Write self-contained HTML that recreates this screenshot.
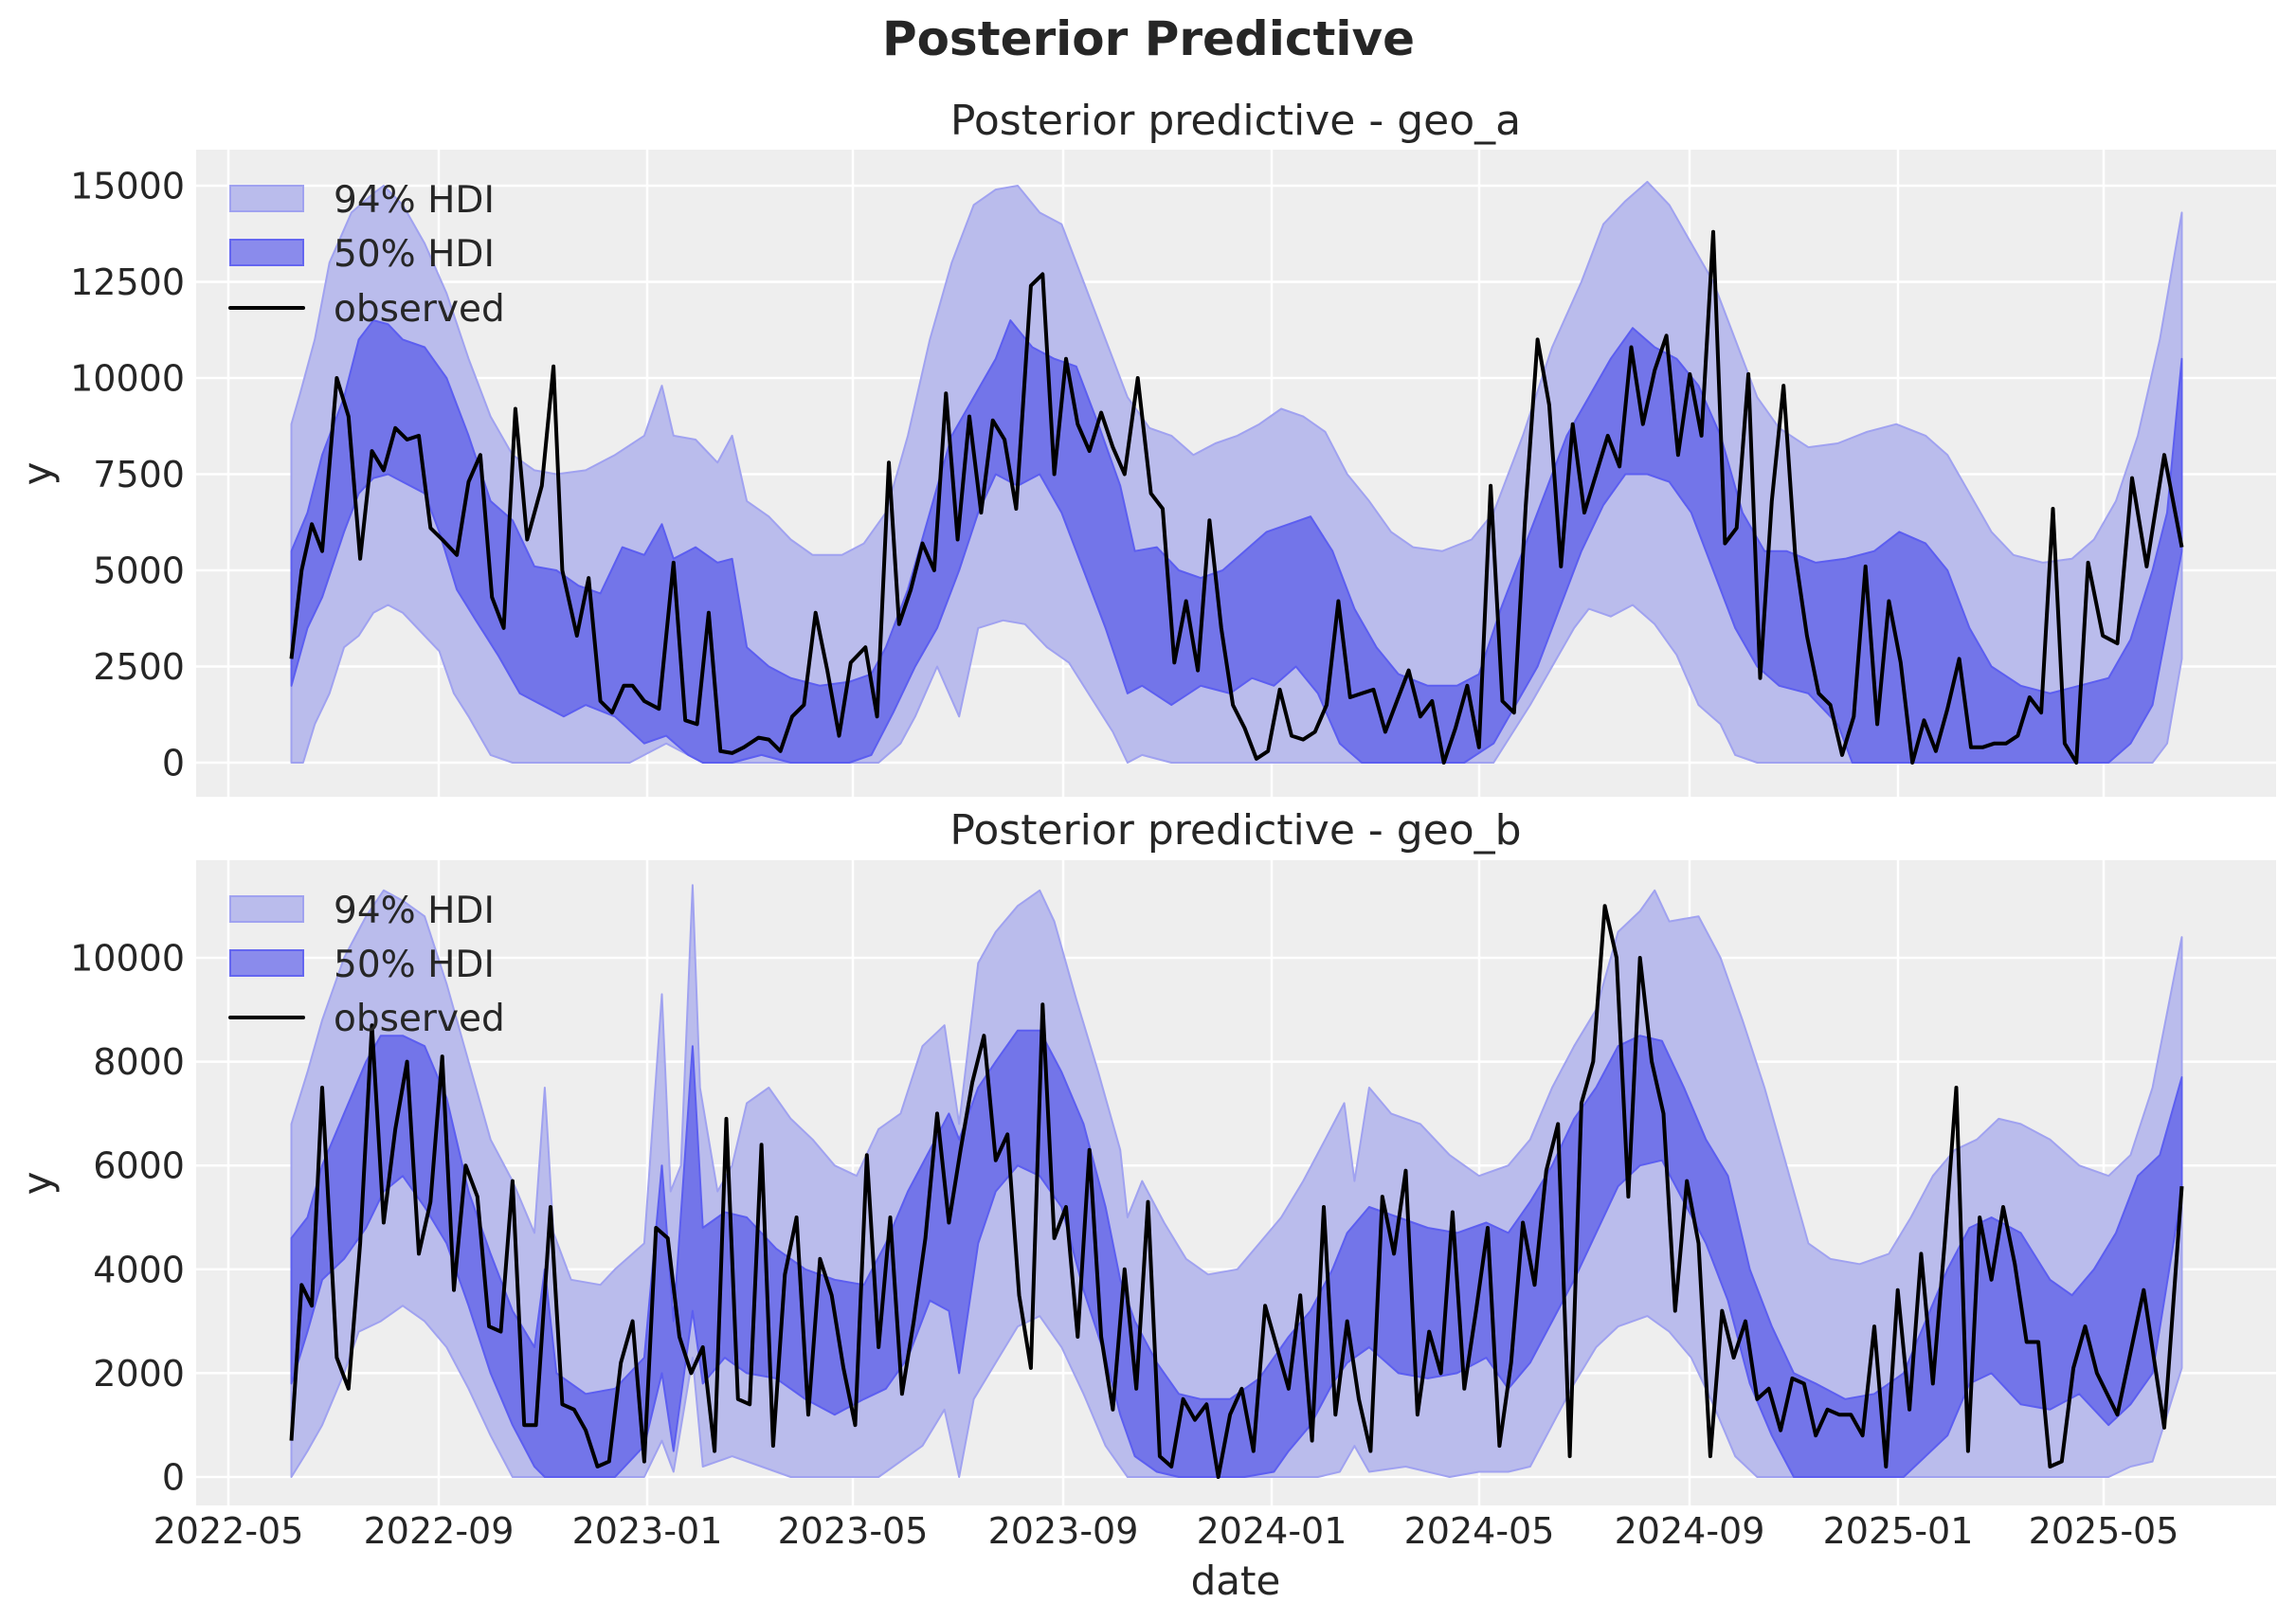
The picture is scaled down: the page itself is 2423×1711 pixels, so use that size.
<!DOCTYPE html>
<html><head><meta charset="utf-8"><style>
html,body{margin:0;padding:0;background:#fff;}
svg{display:block;}
text{font-family:"DejaVu Sans","Liberation Sans",sans-serif;fill:#262626;}
</style></head><body>
<svg id="s" width="2423" height="1711" viewBox="0 0 2423 1711" xmlns="http://www.w3.org/2000/svg">
<rect x="0" y="0" width="2423" height="1711" fill="#fff"/>
<text x="1212" y="58" font-size="50" font-weight="bold" text-anchor="middle">Posterior Predictive</text>
<text x="1304" y="142" font-size="44" text-anchor="middle">Posterior predictive - geo_a</text>
<text x="1304" y="891" font-size="44" text-anchor="middle">Posterior predictive - geo_b</text>
<text x="1304" y="1683" font-size="42" text-anchor="middle">date</text>
<text transform="translate(54,500) rotate(-90)" font-size="42" text-anchor="middle">y</text>
<text transform="translate(54,1249) rotate(-90)" font-size="42" text-anchor="middle">y</text>
<g id="g"></g>
</svg>
<script>
var S=1.5453,NS="http://www.w3.org/2000/svg",G=document.getElementById('g');
function el(t,a,txt){var e=document.createElementNS(NS,t);for(var k in a)e.setAttribute(k,a[k]);if(txt!=null)e.textContent=txt;G.appendChild(e);return e;}
var L=207,R=2402;
var xt=[241,463,683,900,1122,1342,1561,1783,2003,2220],xl=["2022-05","2022-09","2023-01","2023-05","2023-09","2024-01","2024-05","2024-09","2025-01","2025-05"];
var P=[{top:158,bot:841,y0:805,k:609/15000,ticks:[0,2500,5000,7500,10000,12500,15000],
u94:[199,8800,205,9600,215,11000,225,13000,240,14300,255,14800,262,15000,275,14500,290,13500,305,12200,320,10500,335,9000,350,8000,365,7600,380,7500,400,7600,420,8000,440,8500,452,9800,460,8500,475,8400,490,7800,500,8500,510,6800,525,6400,540,5800,555,5400,575,5400,590,5700,605,6500,620,8500,635,11000,650,13000,665,14500,680,14900,695,15000,710,14300,725,14000,740,12500,755,11000,770,9500,785,8700,800,8500,815,8000,830,8300,845,8500,860,8800,875,9200,890,9000,905,8600,920,7500,935,6800,950,6000,965,5600,985,5500,1005,5800,1020,6500,1040,8500,1060,10800,1080,12500,1095,14000,1110,14600,1125,15100,1140,14500,1155,13500,1170,12500,1185,11000,1200,9500,1215,8700,1235,8200,1255,8300,1275,8600,1295,8800,1315,8500,1330,8000,1345,7000,1360,6000,1375,5400,1395,5200,1415,5300,1430,5800,1445,6800,1460,8500,1475,11000,1490,14300],
l94:[199,0,207,0,215,1000,225,1800,235,3000,245,3300,255,3900,265,4100,275,3900,290,3300,300,2900,310,1800,320,1200,335,200,350,0,430,0,440,200,455,500,470,200,480,0,600,0,615,500,625,1200,640,2500,655,1200,668,3500,685,3700,700,3600,715,3000,730,2600,745,1700,760,800,770,0,780,200,800,0,1020,0,1030,600,1045,1500,1060,2500,1075,3500,1085,4000,1100,3800,1115,4100,1130,3600,1145,2800,1160,1500,1175,1000,1185,200,1200,0,1470,0,1480,500,1490,2700],
u50:[199,5500,210,6500,220,8000,235,9500,245,11000,255,11500,265,11400,275,11000,290,10800,305,10000,320,8500,335,6800,350,6300,365,5100,380,5000,395,4600,410,4400,425,5600,440,5400,452,6200,460,5300,475,5600,490,5200,500,5300,510,3000,525,2500,540,2200,560,2000,580,2100,595,2300,605,3000,620,4500,635,6500,650,8500,665,9500,680,10500,690,11500,705,10800,720,10500,735,10300,750,8800,765,7200,775,5500,790,5600,805,5000,820,4800,835,5000,850,5500,865,6000,880,6200,895,6400,910,5500,925,4000,940,3000,955,2300,975,2000,995,2000,1010,2300,1025,4000,1040,5500,1055,7000,1070,8500,1085,9500,1100,10500,1115,11300,1130,10800,1145,10500,1160,9800,1175,8500,1190,6500,1205,5500,1220,5500,1240,5200,1260,5300,1280,5500,1297,6000,1315,5700,1330,5000,1345,3500,1360,2500,1380,2000,1400,1800,1420,2000,1440,2200,1455,3200,1470,5000,1480,6500,1490,10500],
l50:[199,2000,210,3500,220,4300,235,6000,245,7000,255,7400,265,7500,275,7300,290,7000,300,6000,312,4500,325,3700,340,2800,355,1800,370,1500,385,1200,400,1500,420,1200,440,500,455,700,470,200,480,0,500,0,520,200,540,0,580,0,595,200,610,1300,625,2500,640,3500,655,5000,668,6500,680,7500,695,7200,710,7500,725,6500,740,5000,755,3500,770,1800,780,2000,800,1500,820,2000,840,1800,855,2200,870,2000,885,2500,900,1800,915,500,930,0,1000,0,1020,500,1035,1500,1050,2500,1065,4000,1080,5500,1095,6700,1110,7500,1125,7500,1140,7300,1155,6500,1170,5000,1185,3500,1200,2500,1215,2000,1235,1800,1255,1000,1265,0,1440,0,1455,500,1470,1500,1480,3500,1490,5500],
obs:[199,2700,206,5000,213,6200,220,5500,230,10000,238,9000,246,5300,254,8100,262,7600,270,8700,278,8400,286,8500,294,6100,302,5800,312,5400,320,7300,328,8000,336,4300,344,3500,352,9200,360,5800,370,7200,378,10300,384,5000,394,3300,402,4800,410,1600,418,1300,426,2000,432,2000,440,1600,450,1400,460,5200,468,1100,476,1000,484,3900,492,300,500,250,508,400,518,650,525,600,533,300,541,1200,549,1500,557,3900,565,2400,573,700,581,2600,591,3000,599,1200,607,7800,614,3600,622,4500,630,5700,638,5000,646,9600,654,5800,662,9000,670,6500,678,8900,686,8400,694,6600,704,12400,712,12700,720,7500,728,10500,736,8800,744,8100,752,9100,760,8200,768,7500,777,10000,786,7000,794,6600,802,2600,810,4200,818,2400,826,6300,834,3500,842,1500,850,900,858,100,866,300,874,1900,882,700,890,600,898,800,906,1500,914,4200,922,1700,930,1800,938,1900,946,800,954,1600,962,2400,970,1200,978,1600,986,0,994,900,1002,2000,1010,400,1018,7200,1026,1600,1034,1300,1042,6700,1050,11000,1058,9300,1066,5100,1074,8800,1082,6500,1090,7500,1098,8500,1106,7700,1114,10800,1122,8800,1130,10200,1138,11100,1146,8000,1154,10100,1162,8500,1170,13800,1178,5700,1186,6100,1194,10100,1202,2200,1210,6800,1218,9800,1226,5400,1234,3300,1242,1800,1250,1500,1258,200,1266,1200,1274,5100,1282,1000,1290,4200,1298,2600,1306,0,1314,1100,1322,300,1330,1400,1338,2700,1346,400,1354,400,1362,500,1370,500,1378,700,1386,1700,1394,1300,1402,6600,1410,500,1418,0,1426,5200,1436,3300,1446,3100,1456,7400,1466,5100,1478,8000,1490,5600]},
{top:908,bot:1589,y0:1559,k:0.0548,ticks:[0,2000,4000,6000,8000,10000],
u94:[199,6800,210,7800,220,8800,235,10000,250,10800,262,11300,275,11100,290,10800,305,9500,320,8000,335,6500,350,5700,365,4700,372,7500,378,4700,390,3800,410,3700,420,4000,440,4500,452,9300,458,5500,465,6000,473,11400,478,7500,490,5500,500,6000,510,7200,525,7500,540,6900,555,6500,570,6000,585,5800,600,6700,615,7000,630,8300,645,8700,655,6800,668,9900,680,10500,695,11000,710,11300,720,10700,735,9200,750,7800,765,6300,770,5000,780,5700,795,4900,810,4200,825,3900,845,4000,860,4500,875,5000,890,5700,905,6500,918,7200,925,5700,935,7500,950,7000,970,6800,990,6200,1010,5800,1030,6000,1045,6500,1060,7500,1075,8300,1090,9000,1105,10500,1120,10900,1130,11300,1140,10700,1160,10800,1175,10000,1190,8800,1205,7500,1220,6000,1235,4500,1250,4200,1270,4100,1290,4300,1305,5000,1320,5800,1335,6300,1350,6500,1365,6900,1380,6800,1400,6500,1420,6000,1440,5800,1455,6200,1470,7500,1490,10400],
l94:[199,0,210,500,220,1000,235,2000,245,2800,260,3000,275,3300,290,3000,305,2500,320,1700,335,800,350,0,440,0,452,700,460,100,473,2300,480,200,490,300,500,400,520,200,540,0,600,0,630,600,645,1300,655,0,665,1500,680,2200,695,2900,710,3100,725,2500,740,1600,755,600,770,0,900,0,915,100,925,600,935,100,960,200,990,0,1010,100,1030,100,1045,200,1060,1000,1075,1800,1090,2500,1105,2900,1125,3100,1140,2800,1155,2300,1170,1400,1185,400,1200,0,1440,0,1455,200,1470,300,1490,2100],
u50:[199,4600,210,5000,220,6000,235,7000,250,8000,260,8500,275,8500,290,8300,305,7300,320,5500,335,4300,350,3200,365,2500,372,4000,380,2000,400,1600,420,1700,440,2300,452,6000,460,3000,473,8300,480,4800,495,5100,510,5000,530,4400,550,4000,570,3800,590,3700,605,4500,620,5500,635,6300,648,7000,655,6500,668,7500,680,8000,695,8600,710,8600,725,7800,740,6800,755,5200,765,3800,775,3000,790,2200,805,1600,820,1500,840,1500,860,1900,880,2700,895,3200,910,4000,920,4700,935,5200,955,5000,975,4800,995,4700,1015,4900,1030,4700,1045,5300,1060,6000,1075,6900,1090,7500,1105,8300,1120,8500,1135,8400,1150,7500,1165,6500,1180,5800,1195,4000,1210,2900,1225,2000,1240,1800,1260,1500,1280,1600,1300,2000,1315,3000,1330,4000,1345,4800,1360,5000,1380,4700,1400,3800,1415,3500,1430,4000,1445,4700,1460,5800,1475,6200,1490,7700],
l50:[199,1800,210,2800,220,3800,235,4200,250,4800,262,5500,275,5800,290,5200,305,4500,320,3300,335,2000,350,1000,365,200,372,0,420,0,440,600,452,2000,460,500,473,3200,480,1800,495,2300,510,2000,530,1900,550,1500,570,1200,590,1500,605,1700,620,2300,635,3400,648,3200,655,2000,668,4500,680,5500,695,6000,710,5800,725,5200,740,3600,755,2300,765,1200,775,400,790,100,805,0,850,0,870,100,880,500,895,1000,910,1800,920,2200,935,2500,955,2000,975,1900,995,2000,1015,2300,1030,1700,1045,2200,1060,3000,1075,3800,1090,4700,1105,5600,1120,6000,1135,6100,1150,5300,1165,4500,1180,3400,1195,1800,1210,800,1225,0,1300,0,1330,800,1345,1800,1360,2000,1380,1400,1400,1300,1420,1600,1440,1000,1455,1400,1470,2000,1490,5500],
obs:[199,700,206,3700,213,3300,220,7500,230,2300,238,1700,246,4500,254,8700,262,4900,270,6700,278,8000,286,4300,294,5300,302,8100,310,3600,318,6000,326,5400,334,2900,342,2800,350,5700,358,1000,366,1000,376,5200,384,1400,392,1300,400,900,408,200,416,300,424,2200,432,3000,440,300,448,4800,456,4600,464,2700,472,2000,480,2500,488,500,496,6900,504,1500,512,1400,520,6400,528,600,536,3900,544,5000,552,1200,560,4200,568,3500,576,2100,584,1000,592,6200,600,2500,608,5000,616,1600,624,3000,632,4600,640,7000,648,4900,656,6300,664,7600,672,8500,680,6100,688,6600,696,3500,704,2100,712,9100,720,4600,728,5200,736,2700,744,6300,752,2700,760,1300,768,4000,776,1700,784,5300,792,400,800,200,808,1500,816,1100,824,1400,832,0,840,1200,848,1700,856,500,864,3300,872,2500,880,1700,888,3500,896,700,904,5200,912,1200,920,3000,928,1500,936,500,944,5400,952,4300,960,5900,968,1200,976,2800,984,2000,992,5100,1000,1700,1008,3200,1016,4800,1024,600,1032,2200,1040,4900,1048,3700,1056,5900,1064,6800,1072,400,1080,7200,1088,8000,1096,11000,1104,10000,1112,5400,1120,10000,1128,8000,1136,7000,1144,3200,1152,5700,1160,4500,1168,400,1176,3200,1184,2300,1192,3000,1200,1500,1208,1700,1216,900,1224,1900,1232,1800,1240,800,1248,1300,1256,1200,1264,1200,1272,800,1280,2900,1288,200,1296,3600,1304,1300,1312,4300,1320,1800,1328,4500,1336,7500,1344,500,1352,5000,1360,3800,1368,5200,1376,4100,1384,2600,1392,2600,1400,200,1408,300,1416,2100,1424,2900,1432,2000,1446,1200,1464,3600,1478,950,1490,5600]}];
P.forEach(function(p,pi){
  el('rect',{x:L,y:p.top,width:R-L,height:p.bot-p.top,fill:'#eeeeee'});
  var cid='c'+pi;var cp=el('clipPath',{id:cid});
  var cr=document.createElementNS(NS,'rect');cr.setAttribute('x',L);cr.setAttribute('y',p.top);cr.setAttribute('width',R-L);cr.setAttribute('height',p.bot-p.top);cp.appendChild(cr);
  p.ticks.forEach(function(v){var y=p.y0-v*p.k;el('line',{x1:L,x2:R,y1:y,y2:y,stroke:'#fff','stroke-width':2.5});
    el('text',{x:195,y:y+13.5,'font-size':38,'text-anchor':'end'},String(v));});
  xt.forEach(function(x,i){el('line',{x1:x,x2:x,y1:p.top,y2:p.bot,stroke:'#fff','stroke-width':2.5});
    if(pi==1)el('text',{x:x,y:1629,'font-size':38,'text-anchor':'middle'},xl[i]);});
  function pts(a){var o=[];for(var i=0;i<a.length;i+=2)o.push((a[i]*S).toFixed(1)+','+(p.y0-a[i+1]*p.k).toFixed(1));return o;}
  function band(u,l,f,s){var a=pts(u),b=pts(l).reverse();el('path',{d:'M'+a.join('L')+'L'+b.join('L')+'Z',fill:f,stroke:s,'stroke-width':2,'stroke-linejoin':'round','clip-path':'url(#'+cid+')'});}
  band(p.u94,p.l94,'#babcec','#a0a2f0');
  band(p.u50,p.l50,'#7375e9','#5c5ef0');
  el('path',{d:'M'+pts(p.obs).join('L'),fill:'none',stroke:'#000','stroke-width':4,'stroke-linejoin':'round','clip-path':'url(#'+cid+')'});
  var ly=pi==0?[210,267,325]:[960,1017,1074];
  el('rect',{x:243,y:ly[0]-14,width:77,height:27,fill:'#babcec',stroke:'#a0a2f0','stroke-width':2});
  el('rect',{x:243,y:ly[1]-14,width:77,height:27,fill:'#8a8bec',stroke:'#6466f0','stroke-width':2});
  el('line',{x1:243,x2:320,y1:ly[2],y2:ly[2],stroke:'#000','stroke-width':4,'stroke-linecap':'round'});
  var lb=['94% HDI','50% HDI','observed'];
  for(var i=0;i<3;i++)el('text',{x:352,y:ly[i]+14,'font-size':39},lb[i]);
});
</script>
</body></html>
